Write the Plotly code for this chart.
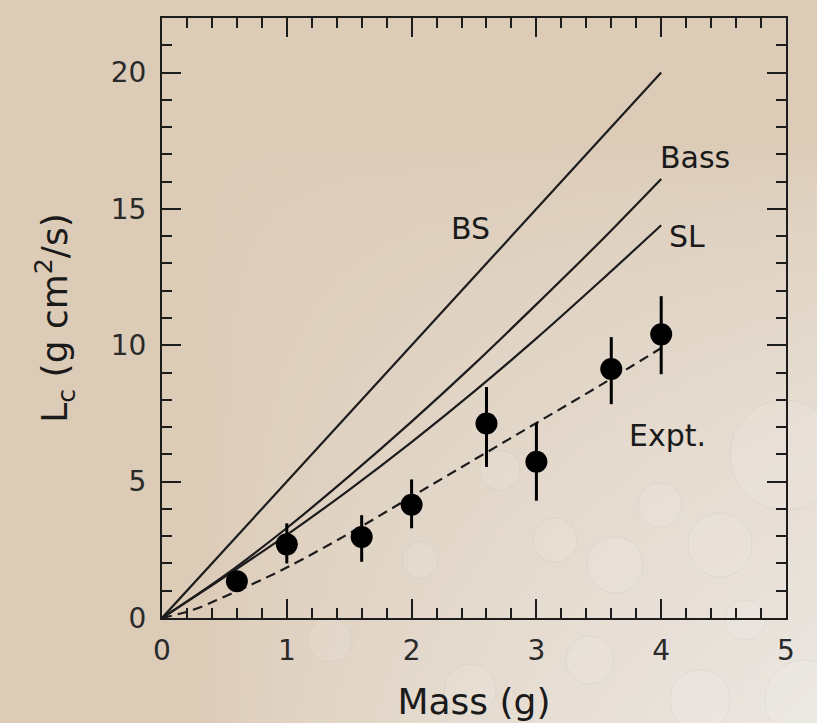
import base64, struct, zlib
import numpy as np
import plotly.graph_objects as go

# ---------------- data ----------------
mass_pts = [0.6, 1.0, 1.6, 2.0, 2.6, 3.0, 3.6, 4.0]
lc_pts = [1.35, 2.7, 2.97, 4.15, 7.13, 5.73, 9.13, 10.4]
err_plus = [0.3, 0.77, 0.8, 0.93, 1.34, 1.42, 1.17, 1.4]
err_minus = [0.3, 0.7, 0.91, 0.86, 1.59, 1.43, 1.29, 1.46]

bs_x = [0.0, 4.0]
bs_y = [0.0, 20.0]
bass_x = [0.0, 0.5, 1.0, 1.5, 2.0, 2.5, 3.0, 3.5, 4.0]
bass_y = [0.0, 1.55, 3.3, 5.2, 7.2, 9.3, 11.5, 13.75, 16.1]
sl_x = [0.0, 0.5, 1.0, 1.5, 2.0, 2.5, 3.0, 3.5, 4.0]
sl_y = [0.0, 1.5, 3.05, 4.7, 6.45, 8.3, 10.25, 12.3, 14.4]
expt_x = [0.0, 0.25, 0.5, 0.75, 1.0, 1.5, 2.0, 2.5, 3.0, 3.5, 4.0]
expt_y = [0.0, 0.3, 0.78, 1.3, 1.85, 3.1, 4.45, 5.8, 7.15, 8.5, 9.9]

labels = ["BS", "Bass", "SL", "Expt."]
label_x = [2.47, 4.27, 4.21, 4.05]
label_y = [14.3, 16.9, 14.0, 6.7]

x_ticks = [0, 1, 2, 3, 4, 5]
y_ticks = [0, 5, 10, 15, 20]

# ---------------- background gradient (style only) ----------------
W, H = 164, 145
u = np.linspace(0, 1, W)[None, :]
v = np.linspace(0, 1, H)[:, None]
t = np.clip((u - 0.25) / 0.75, 0, 1) * np.clip((v - 0.2) / 0.8, 0, 1)
t = np.clip(t, 0, 1) ** 0.6
c0 = np.array([220, 203, 183], dtype=float)
c1 = np.array([236, 231, 226], dtype=float)
img = (c0[None, None, :] * (1 - t[..., None]) + c1[None, None, :] * t[..., None]).astype(np.uint8)

def to_png(arr):
    h, w, _ = arr.shape
    raw = b"".join(b"\x00" + arr[r].tobytes() for r in range(h))
    def chunk(tag, data):
        c = struct.pack(">I", len(data)) + tag + data
        return c + struct.pack(">I", zlib.crc32(tag + data) & 0xffffffff)
    png = b"\x89PNG\r\n\x1a\n"
    png += chunk(b"IHDR", struct.pack(">IIBBBBB", w, h, 8, 2, 0, 0, 0))
    png += chunk(b"IDAT", zlib.compress(raw, 9))
    png += chunk(b"IEND", b"")
    return "data:image/png;base64," + base64.b64encode(png).decode()

bg_src = to_png(img)

# ---------------- figure ----------------
LINE = "#1c1c1c"
FONT = "DejaVu Sans"
fig = go.Figure()

for xs, ys in [(bs_x, bs_y), (bass_x, bass_y), (sl_x, sl_y)]:
    fig.add_trace(go.Scatter(x=xs, y=ys, mode="lines",
                             line=dict(color=LINE, width=2.2, shape="spline", smoothing=1.0),
                             showlegend=False, hoverinfo="skip"))

fig.add_trace(go.Scatter(x=expt_x, y=expt_y, mode="lines",
                         line=dict(color=LINE, width=2.2, dash="10px,6px", shape="spline", smoothing=1.0),
                         showlegend=False, hoverinfo="skip"))

fig.add_trace(go.Scatter(
    x=mass_pts, y=lc_pts, mode="markers",
    marker=dict(color="black", size=22),
    error_y=dict(type="data", symmetric=False, array=err_plus, arrayminus=err_minus,
                 color="black", thickness=3, width=0),
    showlegend=False, hoverinfo="skip"))

for txt, lx, ly in zip(labels, label_x, label_y):
    fig.add_annotation(x=lx, y=ly, text=txt, showarrow=False,
                       font=dict(family=FONT, size=30, color="#1a1a1a"))

PL, PR, PT, PB = 162, 786, 18, 618
pw, ph = PR - PL, PB - PT
fig.add_layout_image(dict(source=bg_src, xref="paper", yref="paper",
                          x=-PL / pw, y=1 + PT / ph, sizex=817 / pw, sizey=723 / ph,
                          xanchor="left", yanchor="top", sizing="stretch", layer="below"))

# faint water droplets in the lower right of the backdrop (decoration)
drops = [(785, 455, 55), (720, 545, 32), (615, 565, 28), (555, 540, 22), (500, 470, 20),
         (660, 505, 22), (805, 700, 40), (700, 700, 30), (470, 690, 26), (590, 660, 24),
         (420, 560, 18), (745, 620, 20), (330, 640, 22)]
for cx, cy, r in drops:
    fig.add_shape(type="circle", xref="paper", yref="paper",
                  x0=(cx - r - PL) / pw, x1=(cx + r - PL) / pw,
                  y0=(PB - (cy + r)) / ph, y1=(PB - (cy - r)) / ph,
                  fillcolor="rgba(255,255,255,0.09)", line=dict(color="rgba(170,160,150,0.14)", width=1),
                  layer="below")

axis_common = dict(showgrid=False, zeroline=False, showline=True, linecolor=LINE, linewidth=2,
                   mirror="allticks", ticks="inside", tickcolor=LINE, tickwidth=2, ticklen=19,
                   tickfont=dict(family=FONT, size=28, color="#2a2a2a"))

fig.update_xaxes(range=[0, 5], tickvals=x_ticks, ticktext=[str(v) for v in x_ticks],
                 minor=dict(dtick=0.2, ticks="inside", ticklen=10, tickcolor=LINE, tickwidth=2, showgrid=False),
                 title=dict(text="Mass (g)", font=dict(family=FONT, size=36, color="#1a1a1a"), standoff=23),
                 ticklabelstandoff=6, fixedrange=True, **axis_common)
fig.update_yaxes(range=[0, 22], tickvals=y_ticks, ticktext=[str(v) for v in y_ticks],
                 minor=dict(dtick=1, ticks="inside", ticklen=10, tickcolor=LINE, tickwidth=2, showgrid=False),
                 title=dict(text="L<sub>c</sub> (g cm<sup>2</sup>/s)",
                            font=dict(family=FONT, size=36, color="#1a1a1a"), standoff=32),
                 ticklabelstandoff=8, fixedrange=True, **axis_common)

fig.update_layout(width=817, height=723,
                  margin=dict(l=PL, r=817 - PR, t=PT, b=723 - PB, autoexpand=False),
                  paper_bgcolor="#dccbb7", plot_bgcolor="rgba(0,0,0,0)",
                  showlegend=False, hovermode=False)

fig.write_html("out.html", config={"displayModeBar": False, "staticPlot": True},
               post_script="document.body.style.margin='0';document.body.style.background='#dccbb7';")
